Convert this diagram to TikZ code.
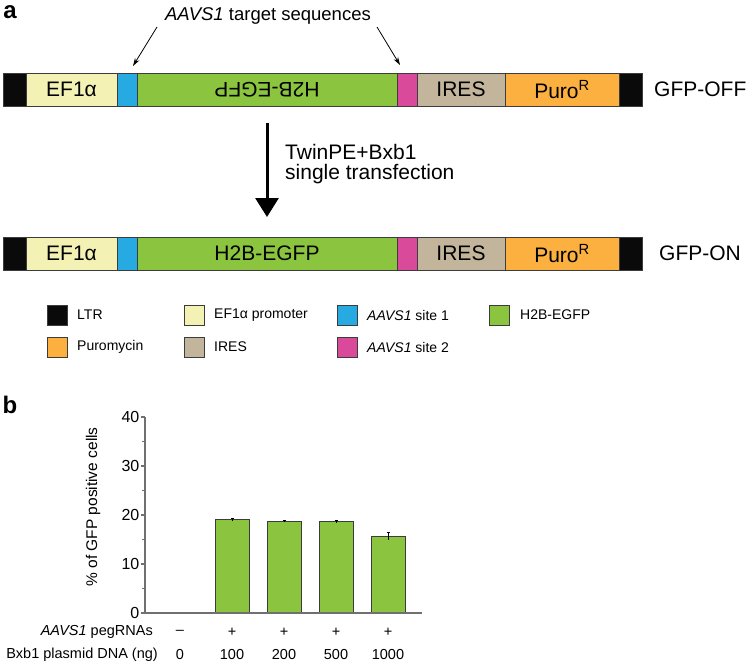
\documentclass[tikz,border=0pt]{standalone}
\usepackage{fontspec}
\setmainfont{Liberation Sans}
\usetikzlibrary{arrows.meta}
\definecolor{cltr}{HTML}{0A0A0A}
\definecolor{cef}{HTML}{F4F1B5}
\definecolor{csiteone}{HTML}{27AAE1}
\definecolor{cgreen}{HTML}{8BC53F}
\definecolor{csitetwo}{HTML}{DA4A9A}
\definecolor{cires}{HTML}{C2B59B}
\definecolor{cpuro}{HTML}{FBB040}
\definecolor{cline}{HTML}{3C3C3C}
\definecolor{caxis}{HTML}{707070}
\newcommand{\fs}[1]{\fontsize{#1}{#1}\selectfont}
\newcommand{\mkconstruct}[3]{%
  \node[seg, fill=cltr, minimum width=22.7] (#1ltra) at (14.65,#2) {};
  \node[seg, fill=cef, minimum width=91] (#1ef) at (71.5,#2) {EF1α};
  \node[seg, fill=csiteone, minimum width=20] (#1sa) at (127,#2) {};
  \node[seg, fill=cgreen, minimum width=260] (#1h2b) at (267,#2) {\rotatebox{#3}{H2B-EGFP}};
  \node[seg, fill=csitetwo, minimum width=20] (#1sb) at (407,#2) {};
  \node[seg, fill=cires, minimum width=88] (#1ires) at (461,#2) {IRES};
  \node[seg, fill=cpuro, minimum width=114] (#1puro) at (562,#2) {Puro\textsuperscript{R}};
  \node[seg, fill=cltr, minimum width=23] (#1ltrb) at (630.5,#2) {};
}
\begin{document}
\begin{tikzpicture}[x=1pt,y=-1pt,
  seg/.style={draw=cline, line width=0.8pt, minimum height=33, inner sep=0pt, font=\fs{21}},
  thinarrow/.style={line width=0.8pt, -{Stealth[length=8pt,width=5pt]}},
  bigarrow/.style={line width=3pt, -{Triangle[length=19pt,width=23pt]}},
  legbox/.style={draw=cline, line width=0.8pt, minimum size=20, inner sep=0pt},
  legtxt/.style={anchor=west, inner sep=0pt, font=\fs{14}},
  panel/.style={font=\fs{24}\bfseries, inner sep=0pt},
  bar/.style={draw=cline, line width=1pt, fill=cgreen},
  axisline/.style={draw=caxis, line width=1.4pt},
  ticklab/.style={anchor=east, inner sep=0pt, font=\fs{16}},
  rowlab/.style={inner sep=0pt, font=\fs{14.5}}]
\useasboundingbox (0,0) rectangle (750,666);

% ---------- panel a ----------
\node[panel] (pa) at (10,12) {a};
\node[inner sep=0pt, font=\fs{18.5}] (tgt) at (268,16) {\textit{AAVS1} target sequences};

\mkconstruct{top}{89.5}{180}
\node[anchor=west, inner sep=0pt, font=\fs{21}] (off) at (654,89.5) {GFP-OFF};

\coordinate (a1s) at (157,27);
\coordinate (a1e) at (133,66);
\coordinate (a2s) at (377,27);
\coordinate (a2e) at (400,65);
\draw[thinarrow] (a1s) -- (a1e);
\draw[thinarrow] (a2s) -- (a2e);

\coordinate (bas) at (267,123);
\coordinate (bae) at (267,217);
\draw[bigarrow] (bas) -- (bae);
\node[anchor=north west, align=left, inner sep=0pt, font=\fs{21}, text depth=0pt] (tw) at (285,144)
  {TwinPE+Bxb1\\[-1pt]single transfection};

\mkconstruct{bot}{253.5}{0}
\node[anchor=west, inner sep=0pt, font=\fs{21}] (on) at (659,253.5) {GFP-ON};

% legend
\node[legbox, fill=cltr] (l1) at (57,315) {};
\node[legtxt] (l1t) at (77,315) {LTR};
\node[legbox, fill=cef] (l2) at (194,315) {};
\node[legtxt] (l2t) at (214,315) {EF1α promoter};
\node[legbox, fill=csiteone] (l3) at (347,315) {};
\node[legtxt] (l3t) at (367,315) {\textit{AAVS1} site 1};
\node[legbox, fill=cgreen] (l4) at (499.5,315) {};
\node[legtxt] (l4t) at (520,315) {H2B-EGFP};
\node[legbox, fill=cpuro] (l5) at (57,347) {};
\node[legtxt] (l5t) at (77,347) {Puromycin};
\node[legbox, fill=cires] (l6) at (194,347) {};
\node[legtxt] (l6t) at (214,347) {IRES};
\node[legbox, fill=csitetwo] (l7) at (347,347) {};
\node[legtxt] (l7t) at (367,347) {\textit{AAVS1} site 2};

% ---------- panel b ----------
\node[panel] (pb) at (10,405) {b};

% bars (value v -> y = 613 - 4.9 v)
\foreach \cx/\v/\e in {232/19.0/0.3, 284/18.65/0.15, 336/18.7/0.3, 388/15.7/0.7}{
  \draw[bar] (\cx-17,613) rectangle (\cx+17,{613-4.9*\v});
  \draw[line width=0.8pt] (\cx,{613-4.9*(\v-\e)}) -- (\cx,{613-4.9*(\v+\e)});
  \draw[line width=0.8pt] (\cx-1.5,{613-4.9*(\v+\e)}) -- (\cx+1.5,{613-4.9*(\v+\e)});
}
\draw[line width=0.8pt] (178,612.5) -- (182,612.5);

% axes
\draw[axisline] (145,613) -- (145,416.5);
\draw[axisline] (145,613) -- (422,613);
\foreach \v in {0,10,20,30,40}{
  \draw[draw=caxis, line width=1.2pt] (140.5,{613-4.9*\v}) -- (145,{613-4.9*\v});
  \node[ticklab] at (139.5,{613-4.9*\v}) {\v};
}
\foreach \v in {5,15,25,35}{
  \draw[draw=caxis, line width=1.2pt] (142,{613-4.9*\v}) -- (145,{613-4.9*\v});
}
\node[rotate=90, inner sep=0pt, font=\fs{15.5}] (ylab) at (93,507) {\% of GFP positive cells};

% row labels
\node[rowlab, anchor=east] (r1) at (153,632) {\textit{AAVS1} pegRNAs};
\node[rowlab, anchor=east] (r2) at (158,655) {Bxb1 plasmid DNA (ng)};
\foreach \cx/\s/\n in {180/–/0, 232/+/100, 284/+/200, 336/+/500, 388/+/1000}{
  \node[rowlab] at (\cx,632) {\s};
  \node[rowlab] at (\cx,655) {\n};
}
\end{tikzpicture}
\end{document}
